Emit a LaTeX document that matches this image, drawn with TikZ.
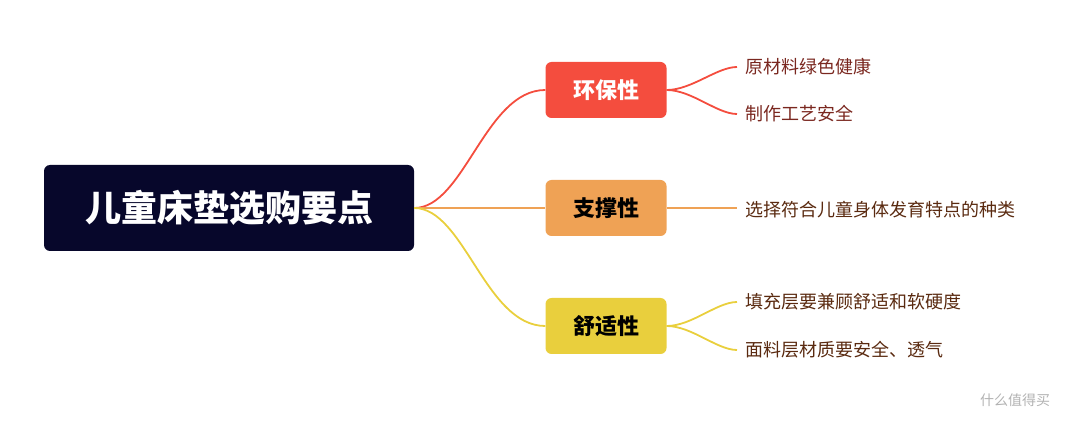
\documentclass[tikz,border=0pt]{standalone}
\usepackage{fontspec}
\setmainfont{Noto Sans CJK SC}
\usetikzlibrary{positioning}
\definecolor{rootc}{HTML}{07072B}
\definecolor{redc}{HTML}{F44D3E}
\definecolor{orangec}{HTML}{EFA255}
\definecolor{yellowc}{HTML}{E9CF3D}
\definecolor{leafc}{HTML}{5A2A10}
\tikzset{
	root/.style={fill=rootc,rounded corners=6pt,minimum width=370pt,minimum height=86pt,text=white,font=\fontsize{36}{40}\selectfont\bfseries},
	branch/.style={rounded corners=6pt,minimum width=121pt,minimum height=56pt,text=black,font=\fontsize{22}{26}\selectfont\bfseries},
	leaf/.style={anchor=west,inner sep=0pt,text=leafc,font=\fontsize{18}{22}\selectfont},
	link/.style={line width=1.8pt}
}
\begin{document}
\begin{tikzpicture}[x=1pt,y=-1pt]
	\useasboundingbox (0,0) rectangle (1080,422);
	\node[root] (r) at (229,208) {儿童床垫选购要点};
	\node[branch,fill=redc,text=white] (b1) at (606,90) {环保性};
	\node[branch,fill=orangec] (b2) at (606,208) {支撑性};
	\node[branch,fill=yellowc] (b3) at (606,326) {舒适性};

	\node[leaf,text=redc!50!black] (l1) at (745,67) {原材料绿色健康};
	\node[leaf,text=redc!50!black] (l2) at (745,114) {制作工艺安全};
	\node[leaf] (l3) at (745,210) {选择符合儿童身体发育特点的种类};
	\node[leaf] (l4) at (745,302) {填充层要兼顾舒适和软硬度};
	\node[leaf] (l5) at (745,350) {面料层材质要安全、透气};
	\node[text=gray!60,font=\fontsize{14}{16}\selectfont] (wm) at (1015,400) {什么值得买};

	\draw[link,redc] (r.east) .. controls +(50,0) and +(-60,0) .. (b1.west);
	\draw[link,orangec] (r.east) -- (b2.west);
	\draw[link,yellowc] (r.east) .. controls +(50,0) and +(-60,0) .. (b3.west);

	\draw[link,redc] (b1.east) .. controls +(25,0) and +(-20,0) .. ([xshift=-8pt]l1.west);
	\draw[link,redc] (b1.east) .. controls +(25,0) and +(-20,0) .. ([xshift=-8pt]l2.west);
	\draw[link,orangec] (b2.east) -- ([xshift=-8pt]b2.east-|l3.west);
	\draw[link,yellowc] (b3.east) .. controls +(25,0) and +(-20,0) .. ([xshift=-8pt]l4.west);
	\draw[link,yellowc] (b3.east) .. controls +(25,0) and +(-20,0) .. ([xshift=-8pt]l5.west);
\end{tikzpicture}
\end{document}
